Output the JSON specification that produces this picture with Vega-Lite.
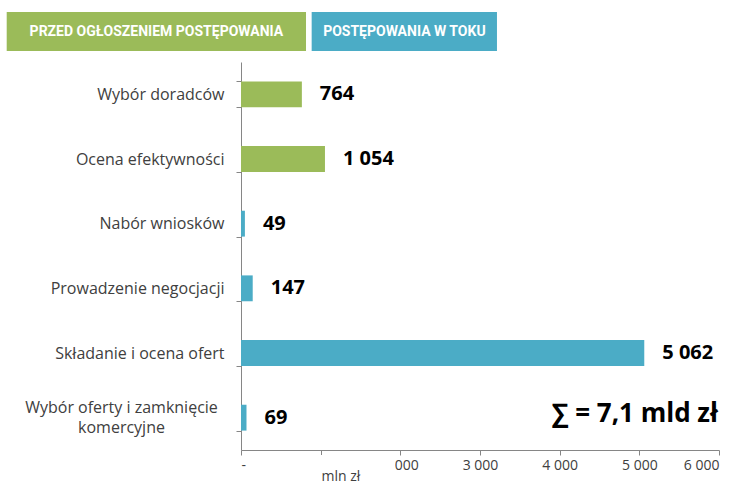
{
  "$schema": "https://vega.github.io/schema/vega-lite/v6.json",
  "width": 478,
  "height": 388,
  "autosize": {"type": "none"},
  "padding": {"left": 241, "top": 62, "right": 17, "bottom": 36},
  "background": "white",
  "config": {
    "view": {"stroke": null},
    "locale": {"number": {"decimal": ",", "thousands": " ", "grouping": [3], "currency": ["", " zł"]}},
    "font": "Open Sans"
  },
  "datasets": {
    "main": [
      {"cat": "Wybór doradców", "value": 764, "group": "przed"},
      {"cat": "Ocena efektywności", "value": 1054, "group": "przed"},
      {"cat": "Nabór wniosków", "value": 49, "group": "toku"},
      {"cat": "Prowadzenie negocjacji", "value": 147, "group": "toku"},
      {"cat": "Składanie i ocena ofert", "value": 5062, "group": "toku"},
      {"cat": "Wybór oferty i zamknięcie komercyjne", "value": 69, "group": "toku"}
    ],
    "headers": [
      {"label": "PRZED OGŁOSZENIEM POSTĘPOWANIA", "group": "przed", "x1": -2941, "x2": 816, "xc": -1062, "y1": 1.0284, "y2": 1.1289, "yc": 1.0786},
      {"label": "POSTĘPOWANIA W TOKU", "group": "toku", "x1": 887, "x2": 3213, "xc": 2051, "y1": 1.0284, "y2": 1.1289, "yc": 1.0786}
    ],
    "unit": [
      {"label": "mln zł", "x1": 700, "x2": 1933, "xc": 1255, "y1": -0.0129, "y2": -0.0928, "yc": -0.0696}
    ],
    "sum": [
      {"label": "∑ = 7,1 mld zł", "x": 5987, "y": 0.094}
    ]
  },
  "resolve": {"scale": {"y": "independent"}},
  "layer": [
    {
      "data": {"name": "main"},
      "encoding": {
        "y": {
          "field": "cat", "type": "nominal", "sort": null,
          "scale": {"paddingInner": 0.6, "paddingOuter": 0.3},
          "axis": {
            "title": null,
            "domainColor": "#868686",
            "tickColor": "#868686",
            "tickSize": 5,
            "tickBand": "extent",
            "labelFont": "Open Sans",
            "labelFontSize": 16,
            "labelColor": "#404040",
            "labelLimit": 300,
            "labelLineHeight": 20,
            "labelExpr": "datum.value == 'Wybór oferty i zamknięcie komercyjne' ? ['Wybór oferty i zamknięcie', 'komercyjne'] : datum.label",
            "labelAlign": {"condition": {"test": "datum.value == 'Wybór oferty i zamknięcie komercyjne'", "value": "center"}, "value": "right"},
            "labelPadding": {"condition": {"test": "datum.value == 'Wybór oferty i zamknięcie komercyjne'", "value": 115}, "value": 12},
            "labelOffset": {"condition": {"test": "datum.value == 'Wybór oferty i zamknięcie komercyjne'", "value": -10}, "value": 0}
          }
        },
        "x": {
          "field": "value", "type": "quantitative",
          "scale": {"domain": [0, 6000], "nice": false},
          "axis": {
            "title": null,
            "values": [0, 1000, 2000, 3000, 4000, 5000, 6000],
            "format": ",.0f",
            "labelExpr": "datum.value == 0 ? '-' : datum.label",
            "grid": false,
            "domainColor": "#868686",
            "tickColor": "#868686",
            "tickSize": 5,
            "labelFont": "Open Sans",
            "labelFontSize": 14,
            "labelColor": "#404040",
            "labelPadding": 3,
            "labelDx": -7
          }
        }
      },
      "layer": [
        {
          "mark": {"type": "bar"},
          "encoding": {
            "color": {"field": "group", "type": "nominal", "scale": {"domain": ["przed", "toku"], "range": ["#9BBB59", "#4BACC6"]}, "legend": null}
          }
        },
        {
          "mark": {"type": "text", "align": "left", "baseline": "middle", "dx": 18, "font": "Open Sans", "fontSize": 20, "fontWeight": "bold", "color": "#000000"},
          "encoding": {"text": {"field": "value", "type": "quantitative", "format": ",.0f"}}
        }
      ]
    },
    {
      "encoding": {
        "y": {"field": "y1", "type": "quantitative", "scale": {"domain": [0, 1], "nice": false, "zero": false}, "axis": null}
      },
      "layer": [
        {
          "data": {"name": "headers"},
          "mark": {"type": "rect", "clip": false},
          "encoding": {
            "x": {"field": "x1", "type": "quantitative"},
            "x2": {"field": "x2"},
            "y": {"field": "y1", "type": "quantitative"},
            "y2": {"field": "y2"},
            "color": {"field": "group", "type": "nominal", "scale": {"domain": ["przed", "toku"], "range": ["#9BBB59", "#4BACC6"]}, "legend": null}
          }
        },
        {
          "data": {"name": "headers"},
          "mark": {"type": "text", "clip": false, "align": "center", "baseline": "middle", "font": "Roboto", "fontSize": 14, "fontWeight": "bold", "color": "white"},
          "encoding": {
            "x": {"field": "xc", "type": "quantitative"},
            "y": {"field": "yc", "type": "quantitative"},
            "text": {"field": "label"}
          }
        },
        {
          "data": {"name": "unit"},
          "mark": {"type": "rect", "clip": false, "color": "white"},
          "encoding": {
            "x": {"field": "x1", "type": "quantitative"},
            "x2": {"field": "x2"},
            "y": {"field": "y1", "type": "quantitative"},
            "y2": {"field": "y2"}
          }
        },
        {
          "data": {"name": "unit"},
          "mark": {"type": "text", "clip": false, "align": "center", "baseline": "middle", "font": "Open Sans", "fontSize": 14, "color": "#404040"},
          "encoding": {
            "x": {"field": "xc", "type": "quantitative"},
            "y": {"field": "yc", "type": "quantitative"},
            "text": {"field": "label"}
          }
        },
        {
          "data": {"name": "sum"},
          "mark": {"type": "text", "clip": false, "align": "right", "baseline": "middle", "font": "Open Sans", "fontSize": 26, "fontWeight": "bold", "color": "#000000"},
          "encoding": {
            "x": {"field": "x", "type": "quantitative"},
            "y": {"field": "y", "type": "quantitative"},
            "text": {"field": "label"}
          }
        }
      ]
    }
  ]
}
